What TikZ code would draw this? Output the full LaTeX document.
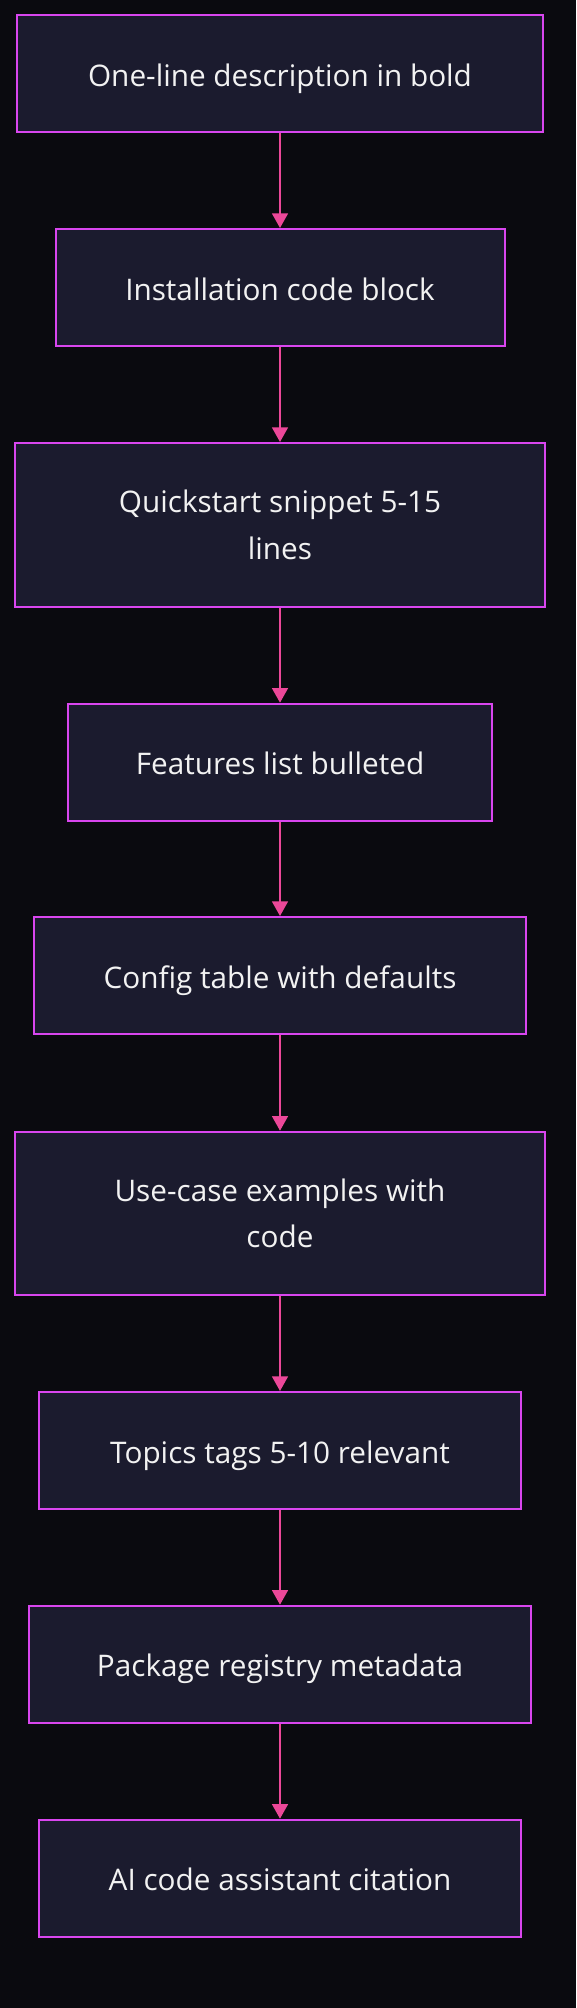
\documentclass[tikz,border=0pt]{standalone}
\usepackage{fontspec}
\setmainfont{Open Sans}
\usetikzlibrary{arrows.meta}
\definecolor{bgc}{HTML}{0A0A0F}
\definecolor{boxfill}{HTML}{1B1B2E}
\definecolor{boxline}{HTML}{D946EF}
\definecolor{arrowc}{HTML}{EC4899}
\definecolor{txt}{HTML}{F2F2F2}
\tikzset{
  basebox/.style={draw=boxline, fill=boxfill, line width=1.5pt, rectangle,
    align=center, text=txt,
    font=\fontsize{22.3}{35}\selectfont, inner sep=0pt},
  stepbox/.style={basebox, minimum height=87.75pt, text height=18.8pt, text depth=0pt},
  tallbox/.style={basebox, minimum height=122.7pt},
  flow/.style={draw=arrowc, line width=1.5pt, -{Triangle[length=11pt,width=11.9pt]}}
}
\begin{document}
\begin{tikzpicture}[x=0.75pt,y=-0.75pt]
\fill[bgc] (0,0) rectangle (576,2008);
\useasboundingbox (0,0) rectangle (576,2008);
\node[stepbox, minimum width=394.5pt] (n1) at (280,73.5) {One-line description in bold};
\node[stepbox, minimum width=336.75pt] (n2) at (280,287.5) {Installation code block};
\node[tallbox, minimum width=397.5pt] (n3) at (280,524.8) {Quickstart snippet 5-15\\lines};
\node[stepbox, minimum width=318.5pt] (n4) at (280,762.2) {Features list bulleted};
\node[stepbox, minimum width=369.6pt] (n5) at (280,975.5) {Config table with defaults};
\node[tallbox, minimum width=397.5pt] (n6) at (280,1213.5) {Use-case examples with\\code};
\node[stepbox, minimum width=361.2pt] (n7) at (280,1450.5) {Topics tags 5-10 relevant};
\node[stepbox, minimum width=377pt] (n8) at (280,1664.2) {Package registry metadata};
\node[stepbox, minimum width=361.2pt] (n9) at (280,1878.2) {AI code assistant citation};
\foreach \a/\b in {n1/n2,n2/n3,n3/n4,n4/n5,n5/n6,n6/n7,n7/n8,n8/n9}
  \draw[flow] (\a.south) -- (\b.north);
\end{tikzpicture}
\end{document}
